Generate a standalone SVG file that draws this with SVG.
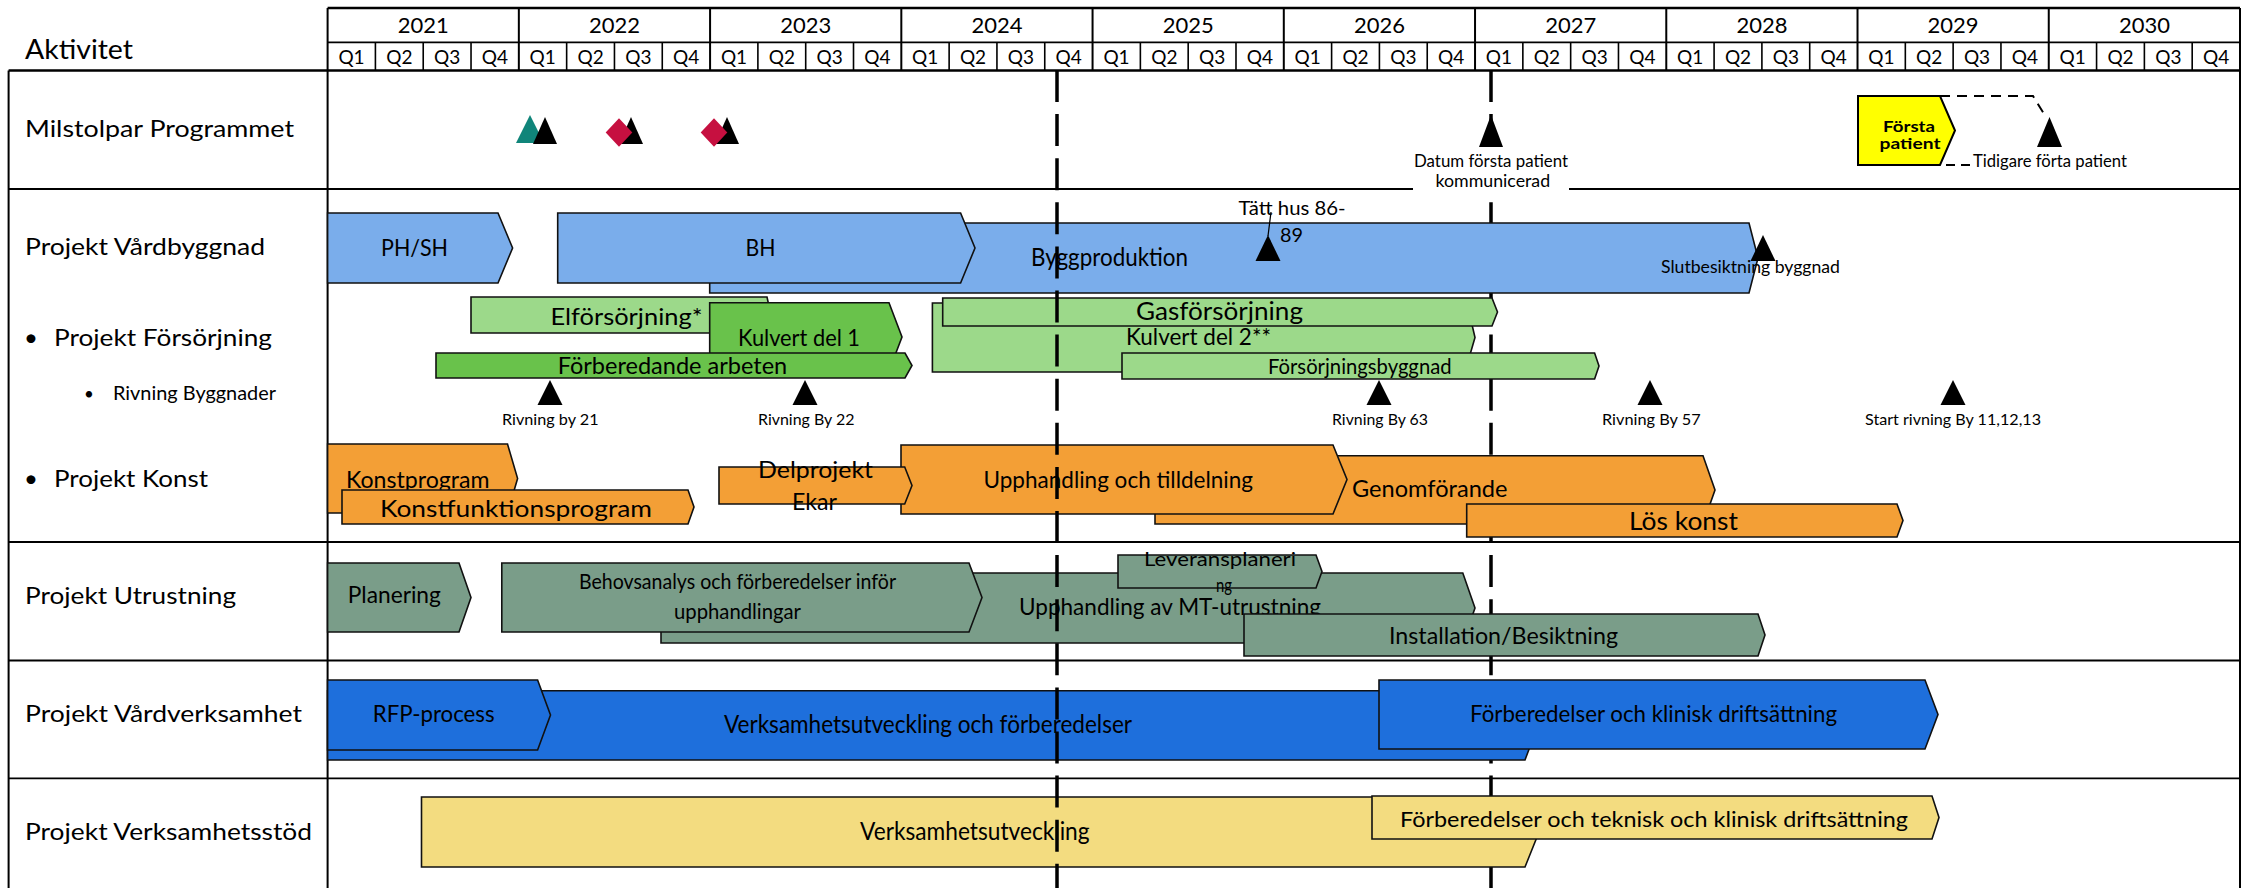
<svg xmlns="http://www.w3.org/2000/svg" width="2247" height="888" viewBox="0 0 2247 888">
<style>
.t{font-family:Lato,'Liberation Sans',sans-serif;fill:#000}
.b{stroke:#111;stroke-width:1.6;stroke-linejoin:miter}
.lb{fill:#7AADEB}.lg{fill:#9CD98A}.dg{fill:#69C24B}.or{fill:#F39F36}.gg{fill:#7A9D89}.bl{fill:#1E6FDC}.yl{fill:#F3DC80}
.grid{stroke:#000;fill:none}
.dash{stroke:#000;stroke-width:3.5;stroke-dasharray:32 12.1;fill:none}
.ms{fill:#000}
</style>
<rect width="2247" height="888" fill="#fff"/>
<g id="grid">
<path class="grid" stroke-width="2.5" d="M327.6 8H2240M8.6 70.5H2240"/>
<path class="grid" stroke-width="1.8" d="M327.6 42.3H2240"/>
<path class="grid" stroke-width="2" d="M327.6 8V888M2240 8V888M8.6 70.5V888M518.84 8V70.5M710.08 8V70.5M901.32 8V70.5M1092.56 8V70.5M1283.8 8V70.5M1475.04 8V70.5M1666.28 8V70.5M1857.52 8V70.5M2048.76 8V70.5"/>
<path class="grid" stroke-width="1.6" d="M375.41 42.3V70.5M423.22 42.3V70.5M471.03 42.3V70.5M566.65 42.3V70.5M614.46 42.3V70.5M662.27 42.3V70.5M757.89 42.3V70.5M805.7 42.3V70.5M853.51 42.3V70.5M949.13 42.3V70.5M996.94 42.3V70.5M1044.75 42.3V70.5M1140.37 42.3V70.5M1188.18 42.3V70.5M1235.99 42.3V70.5M1331.61 42.3V70.5M1379.42 42.3V70.5M1427.23 42.3V70.5M1522.85 42.3V70.5M1570.66 42.3V70.5M1618.47 42.3V70.5M1714.09 42.3V70.5M1761.9 42.3V70.5M1809.71 42.3V70.5M1905.33 42.3V70.5M1953.14 42.3V70.5M2000.95 42.3V70.5M2096.57 42.3V70.5M2144.38 42.3V70.5M2192.19 42.3V70.5"/>
<path class="grid" stroke="#444" stroke-width="1.8" d="M8.6 189H2240M8.6 542H2240M8.6 660.5H2240M8.6 778.3H2240"/>
</g>
<g id="header" class="t">
<text x="25" y="59" font-size="27" textLength="108" lengthAdjust="spacingAndGlyphs">Aktivitet</text>
<g font-size="22" text-anchor="middle">
<text x="423.2" y="33">2021</text><text x="614.5" y="33">2022</text><text x="805.7" y="33">2023</text><text x="996.9" y="33">2024</text><text x="1188.2" y="33">2025</text><text x="1379.4" y="33">2026</text><text x="1570.7" y="33">2027</text><text x="1761.9" y="33">2028</text><text x="1953.1" y="33">2029</text><text x="2144.4" y="33">2030</text>
</g>
<g font-size="19" text-anchor="middle">
<text x="351.5" y="64">Q1</text><text x="399.3" y="64">Q2</text><text x="447.1" y="64">Q3</text><text x="494.9" y="64">Q4</text>
<text x="542.7" y="64">Q1</text><text x="590.6" y="64">Q2</text><text x="638.4" y="64">Q3</text><text x="686.2" y="64">Q4</text>
<text x="734" y="64">Q1</text><text x="781.8" y="64">Q2</text><text x="829.6" y="64">Q3</text><text x="877.4" y="64">Q4</text>
<text x="925.2" y="64">Q1</text><text x="973" y="64">Q2</text><text x="1020.8" y="64">Q3</text><text x="1068.7" y="64">Q4</text>
<text x="1116.5" y="64">Q1</text><text x="1164.3" y="64">Q2</text><text x="1212.1" y="64">Q3</text><text x="1259.9" y="64">Q4</text>
<text x="1307.7" y="64">Q1</text><text x="1355.5" y="64">Q2</text><text x="1403.3" y="64">Q3</text><text x="1451.1" y="64">Q4</text>
<text x="1498.9" y="64">Q1</text><text x="1546.8" y="64">Q2</text><text x="1594.6" y="64">Q3</text><text x="1642.4" y="64">Q4</text>
<text x="1690.2" y="64">Q1</text><text x="1738" y="64">Q2</text><text x="1785.8" y="64">Q3</text><text x="1833.6" y="64">Q4</text>
<text x="1881.4" y="64">Q1</text><text x="1929.2" y="64">Q2</text><text x="1977" y="64">Q3</text><text x="2024.9" y="64">Q4</text>
<text x="2072.7" y="64">Q1</text><text x="2120.5" y="64">Q2</text><text x="2168.3" y="64">Q3</text><text x="2216.1" y="64">Q4</text>
</g>
</g>
<g id="row-labels" class="t" font-size="24">
<text x="25" y="137" textLength="269" lengthAdjust="spacingAndGlyphs">Milstolpar Programmet</text>
<text x="25" y="255" textLength="240" lengthAdjust="spacingAndGlyphs">Projekt Vårdbyggnad</text>
<text x="24" y="346">•</text>
<text x="54" y="346" textLength="218" lengthAdjust="spacingAndGlyphs">Projekt Försörjning</text>
<text x="84" y="400" font-size="17">•</text>
<text x="113" y="400" font-size="19" textLength="163" lengthAdjust="spacingAndGlyphs">Rivning Byggnader</text>
<text x="24" y="487">•</text>
<text x="54" y="487" textLength="154" lengthAdjust="spacingAndGlyphs">Projekt Konst</text>
<text x="25" y="604" textLength="211" lengthAdjust="spacingAndGlyphs">Projekt Utrustning</text>
<text x="25" y="722" textLength="277" lengthAdjust="spacingAndGlyphs">Projekt Vårdverksamhet</text>
<text x="25" y="840" textLength="287" lengthAdjust="spacingAndGlyphs">Projekt Verksamhetsstöd</text>
</g>
<g id="today-line-2027">
<path class="dash" d="M1491 70V888"/>
</g>
<g id="milestones-program">
<path style="fill:#10857A" d="M530 115L544 143H516Z"/>
<path class="ms" d="M545 117L557 144H533Z"/>
<path class="ms" d="M631 117L643 144H619Z"/>
<path fill="#C61040" d="M619 118.3L632.3 132.5L619 146.7L605.7 132.5Z"/>
<path class="ms" d="M727 117L739 144H715Z"/>
<path fill="#C61040" d="M714 118.3L727.3 132.5L714 146.7L700.7 132.5Z"/>
</g>
<g id="ms-datum">
<path class="ms" d="M1491 115L1503 147H1479Z"/>
<rect x="1413" y="150" width="156" height="47" fill="#fff"/>
<text class="t" x="1414" y="167" font-size="18" textLength="154" lengthAdjust="spacingAndGlyphs">Datum första patient</text>
<text class="t" x="1435.5" y="187" font-size="18" textLength="114.6" lengthAdjust="spacingAndGlyphs">kommunicerad</text>
</g>
<g id="forsta-patient">
<path d="M1858 96H1940L1955 130.5L1940 165H1858Z" fill="#FFFF00" stroke="#000" stroke-width="2"/>
<text class="t" x="1883" y="132" font-size="16" font-weight="bold" textLength="52" lengthAdjust="spacingAndGlyphs">Första</text>
<text class="t" x="1879.6" y="149" font-size="16" font-weight="bold" textLength="61" lengthAdjust="spacingAndGlyphs">patient</text>
</g>
<g id="ms-tidigare">
<path class="ms" d="M2049.5 117L2062 147H2037Z"/>
<text class="t" x="1973" y="167" font-size="18" textLength="154" lengthAdjust="spacingAndGlyphs">Tidigare förta patient</text>
</g>
<g id="vardbyggnad">
<path class="b lb" d="M709.7 223H1749L1758 258L1749 293H709.7Z"/>
<text class="t" x="1031" y="266" font-size="25" textLength="157" lengthAdjust="spacingAndGlyphs">Byggproduktion</text>
<path class="b lb" d="M557.7 213H960.6L975 248L960.6 283H557.7Z"/>
<text class="t" x="745.5" y="256" font-size="23" textLength="30" lengthAdjust="spacingAndGlyphs">BH</text>
<path class="b lb" d="M327.6 213H498L512.6 248L498 283H327.6Z"/>
<text class="t" x="381" y="256" font-size="23" textLength="67" lengthAdjust="spacingAndGlyphs">PH/SH</text>
</g>
<g id="ms-tatt-hus">
<text class="t" x="1238.6" y="215" font-size="20" textLength="107" lengthAdjust="spacingAndGlyphs">Tätt hus 86-</text>
<text class="t" x="1280" y="242" font-size="20" textLength="23" lengthAdjust="spacingAndGlyphs">89</text>
<path class="ms" d="M1268 235L1280.5 261H1255.5Z"/>
</g>
<g id="ms-slutbesiktning">
<path class="ms" d="M1763 235L1775.5 261H1750.5Z"/>
<text class="t" x="1661" y="273" font-size="17" textLength="179" lengthAdjust="spacingAndGlyphs">Slutbesiktning byggnad</text>
</g>
<g id="forsorjning">
<path class="b lg" d="M471 297H767L771 315L767 333H471Z"/>
<text class="t" x="550.5" y="325" font-size="24" textLength="152" lengthAdjust="spacingAndGlyphs">Elförsörjning*</text>
<path class="b dg" d="M709.7 302.7H889L902 337L889 371H709.7Z"/>
<text class="t" x="738" y="346" font-size="24" textLength="122" lengthAdjust="spacingAndGlyphs">Kulvert del 1</text>
<path class="b dg" d="M436 353H905L912 365.5L905 378H436Z"/>
<text class="t" x="557.7" y="374" font-size="23" textLength="229.5" lengthAdjust="spacingAndGlyphs">Förberedande arbeten</text>
<path class="b lg" d="M932.4 303H1467L1475 337.5L1465 372H932.4Z"/>
<path class="b lg" d="M942.7 298H1492L1497.5 312L1492 326H942.7Z"/>
<text class="t" x="1136" y="320" font-size="25" textLength="167" lengthAdjust="spacingAndGlyphs">Gasförsörjning</text>
<text class="t" x="1126" y="345" font-size="24" textLength="145" lengthAdjust="spacingAndGlyphs">Kulvert del 2**</text>
<path class="b lg" d="M1122 353H1594.6L1599 366L1594.6 379H1122Z"/>
<text class="t" x="1268" y="374" font-size="21" textLength="183.6" lengthAdjust="spacingAndGlyphs">Försörjningsbyggnad</text>
</g>
<g id="rivning" class="t" font-size="15">
<path class="ms" d="M550 380L562.5 405H537.5Z"/>
<text x="502" y="425" textLength="96.6" lengthAdjust="spacingAndGlyphs">Rivning by 21</text>
<path class="ms" d="M805 380L817.5 405H792.5Z"/>
<text x="758" y="425" textLength="96.5" lengthAdjust="spacingAndGlyphs">Rivning By 22</text>
<path class="ms" d="M1379 380L1391.5 405H1366.5Z"/>
<text x="1332" y="425" textLength="96" lengthAdjust="spacingAndGlyphs">Rivning By 63</text>
<path class="ms" d="M1650 380L1662.5 405H1637.5Z"/>
<text x="1602" y="425" textLength="98.6" lengthAdjust="spacingAndGlyphs">Rivning By 57</text>
<path class="ms" d="M1953 380L1965.5 405H1940.5Z"/>
<text x="1865" y="425" textLength="176" lengthAdjust="spacingAndGlyphs">Start rivning By 11,12,13</text>
</g>
<g id="konst">
<path class="b or" d="M327.6 444H507.5L517.6 478.5L507.5 513H327.6Z"/>
<text class="t" x="346" y="488" font-size="23" textLength="143.6" lengthAdjust="spacingAndGlyphs">Konstprogram</text>
<path class="b or" d="M342 490H688L694 507L688 524H342Z"/>
<text class="t" x="380" y="517" font-size="24" textLength="272" lengthAdjust="spacingAndGlyphs">Konstfunktionsprogram</text>
<path class="b or" d="M1155 455.7H1703L1715 490L1703 524H1155Z"/>
<text class="t" x="1352" y="497" font-size="24" textLength="155.5" lengthAdjust="spacingAndGlyphs">Genomförande</text>
<path class="b or" d="M901 445H1333L1347 479.5L1333 514H901Z"/>
<text class="t" x="983.5" y="488" font-size="24" textLength="269.5" lengthAdjust="spacingAndGlyphs">Upphandling och tilldelning</text>
<path class="b or" d="M719 467H904.7L912 485.5L904.7 504H719Z"/>
<text class="t" x="758" y="478" font-size="23" textLength="115" lengthAdjust="spacingAndGlyphs">Delprojekt</text>
<text class="t" x="792" y="510" font-size="23" textLength="45" lengthAdjust="spacingAndGlyphs">Ekar</text>
<path class="b or" d="M1466.7 504H1897L1903 520.5L1897 537H1466.7Z"/>
<text class="t" x="1629" y="530" font-size="25" textLength="109" lengthAdjust="spacingAndGlyphs">Lös konst</text>
</g>
<g id="utrustning">
<path class="b gg" d="M327.6 563H459L471 597.5L459 632H327.6Z"/>
<text class="t" x="347.7" y="603" font-size="23" textLength="93.2" lengthAdjust="spacingAndGlyphs">Planering</text>
<path class="b gg" d="M661 573H1462.8L1475 608L1462.8 643H661Z"/>
<text class="t" x="1019" y="615" font-size="24" textLength="302" lengthAdjust="spacingAndGlyphs">Upphandling av MT-utrustning</text>
<path class="b gg" d="M501.8 563H969L982 597.5L969 632H501.8Z"/>
<text class="t" x="579" y="588.5" font-size="21" textLength="317" lengthAdjust="spacingAndGlyphs">Behovsanalys och förberedelser inför</text>
<text class="t" x="674" y="619" font-size="21" textLength="127" lengthAdjust="spacingAndGlyphs">upphandlingar</text>
<path class="b gg" d="M1118 555H1316L1322 571.5L1316 588H1118Z"/>
<text class="t" x="1144" y="566" font-size="19" textLength="152" lengthAdjust="spacingAndGlyphs">Leveransplaneri</text>
<text class="t" x="1216" y="592" font-size="19" textLength="16" lengthAdjust="spacingAndGlyphs">ng</text>
<path class="b gg" d="M1244 614H1758L1765 635L1758 656H1244Z"/>
<text class="t" x="1389" y="644" font-size="23" textLength="229" lengthAdjust="spacingAndGlyphs">Installation/Besiktning</text>
</g>
<g id="vardverksamhet">
<path class="b bl" d="M327.6 690.7H1525L1538 725.3L1525 760H327.6Z"/>
<text class="t" x="724" y="733" font-size="25" textLength="408" lengthAdjust="spacingAndGlyphs">Verksamhetsutveckling och förberedelser</text>
<path class="b bl" d="M327.6 680H537.6L550.5 715L537.6 750H327.6Z"/>
<text class="t" x="372.8" y="721.5" font-size="23" textLength="121.8" lengthAdjust="spacingAndGlyphs">RFP-process</text>
<path class="b bl" d="M1379 680H1925L1938 714.5L1925 749H1379Z"/>
<text class="t" x="1470" y="721.5" font-size="24" textLength="367" lengthAdjust="spacingAndGlyphs">Förberedelser och klinisk driftsättning</text>
</g>
<g id="verksamhetsstod">
<path class="b yl" d="M421.5 797H1525L1539 832L1525 867H421.5Z"/>
<text class="t" x="860" y="840" font-size="25" textLength="229.6" lengthAdjust="spacingAndGlyphs">Verksamhetsutveckling</text>
<path class="b yl" d="M1372 796H1932L1939 817.5L1932 839H1372Z"/>
<text class="t" x="1400" y="826.5" font-size="22" textLength="508" lengthAdjust="spacingAndGlyphs">Förberedelser och teknisk och klinisk driftsättning</text>
</g>
<g id="connectors" fill="none" stroke="#000">
<path stroke-width="2" stroke-dasharray="10 7" d="M1940 96H2033L2046 117"/>
<path stroke-width="2" stroke-dasharray="9 6" d="M1946 165H1970"/>
<path stroke-width="1.2" d="M1271 212L1268 236"/>
</g>
<g id="today-line-2024">
<path class="dash" d="M1057 70V888"/>
</g>
</svg>
